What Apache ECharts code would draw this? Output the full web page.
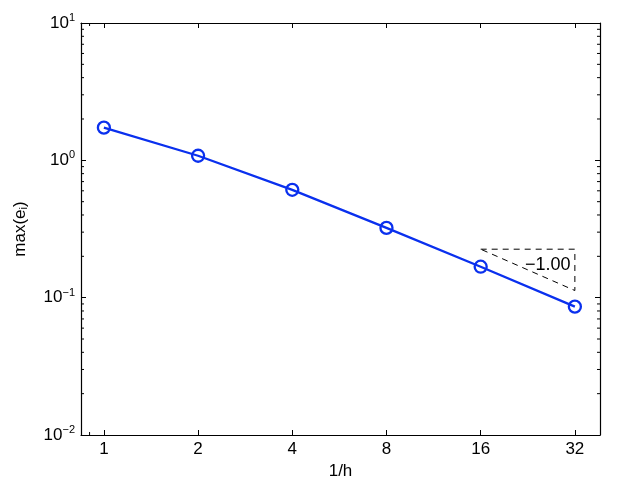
<!DOCTYPE html>
<html><head><meta charset="utf-8">
<script src="https://cdn.jsdelivr.net/npm/echarts@6/dist/echarts.min.js"></script>
<style>html,body{margin:0;padding:0;background:#fff}#c{width:624px;height:490px}</style>
</head><body><div id="c"></div>
<script>
const xValues = [1, 2, 4, 8, 16, 32];
const yValues = [1.73, 1.08, 0.61, 0.322, 0.168, 0.086];
const triangleX = [16, 32, 32, 16];
const triangleY = [0.2254, 0.2254, 0.1127, 0.2254];
const slopeLabel = '\u22121.00';
const slopeLabelPos = [26.2, 0.172];
const yMinorTicks = [];
[0.01, 0.1, 1].forEach(d => { for (let k = 2; k <= 9; k++) yMinorTicks.push(d * k); });
const xMinorTicks = [0.9];

const FONT = 'Liberation Sans, Arial, Helvetica, sans-serif';
const BLUE = '#0a30ee';
const chart = echarts.init(document.getElementById('c'));
const xMin = 0.845, xMax = 38.5;

function yLabel(v) {
  const e = Math.round(Math.log10(v));
  return '10{sup|' + (e < 0 ? '\u2212' + (-e) : e) + '}';
}
function xLabel(v) {
  const l = Math.log2(v);
  if (Math.abs(l - Math.round(l)) < 1e-6) return String(Math.round(Math.pow(2, Math.round(l))));
  return '';
}
const axisCommonX = {
  type: 'log', logBase: 2, min: xMin, max: xMax,
  axisLine: { lineStyle: { color: '#000', width: 1.2 } },
  axisTick: { inside: true, length: 5, lineStyle: { color: '#000' } },
  splitLine: { show: false }
};
const axisCommonY = {
  type: 'log', logBase: 10, min: 0.01, max: 10,
  axisLine: { lineStyle: { color: '#000', width: 1.2 } },
  axisTick: { inside: true, length: 5, lineStyle: { color: '#000' } },
  splitLine: { show: false }
};

chart.setOption({
  animation: false,
  grid: { left: 81, right: 24, top: 23, bottom: 55 },
  xAxis: [
    Object.assign({}, axisCommonX, {
      position: 'bottom',
      name: '1/h', nameLocation: 'middle', nameGap: 24,
      nameTextStyle: { fontFamily: FONT, fontSize: 17, color: '#000' },
      axisLabel: { formatter: xLabel, fontFamily: FONT, fontSize: 17, color: '#000', margin: 6,
        showMinLabel: false, showMaxLabel: false }
    }),
    Object.assign({}, axisCommonX, { position: 'top', axisLabel: { show: false } })
  ],
  yAxis: [
    Object.assign({}, axisCommonY, {
      position: 'left',
      name: 'max(e{sub|i})', nameLocation: 'middle', nameGap: 52,
      nameTextStyle: { fontFamily: FONT, fontSize: 17, color: '#000',
        rich: { sub: { fontFamily: FONT, fontSize: 11, color: '#000', verticalAlign: 'bottom', padding: [6, 0, 0, 0] } } },
      axisLabel: { formatter: yLabel, fontFamily: FONT, fontSize: 17, color: '#000', margin: 6,
        rich: { sup: { fontFamily: FONT, fontSize: 11, color: '#000', verticalAlign: 'top', padding: [0, 0, 10, 0] } } }
    }),
    Object.assign({}, axisCommonY, { position: 'right', axisLabel: { show: false } })
  ],
  series: [
    {
      type: 'line', xAxisIndex: 0, yAxisIndex: 0,
      data: xValues.map((x, i) => [x, yValues[i]]),
      symbol: 'circle', symbolSize: 12, showAllSymbol: true,
      lineStyle: { color: BLUE, width: 2.3 },
      itemStyle: { color: 'rgba(255,255,255,0)', borderColor: BLUE, borderWidth: 2.3 },
      z: 5
    },
    {
      type: 'line', xAxisIndex: 0, yAxisIndex: 0,
      data: triangleX.map((x, i) => [x, triangleY[i]]),
      symbol: 'none',
      lineStyle: { color: '#000', width: 1, type: [6, 5] },
      z: 3
    },
    {
      type: 'custom', xAxisIndex: 0, yAxisIndex: 0,
      data: [slopeLabelPos], silent: true, clip: false,
      renderItem: function (params, api) {
        const p = api.coord([api.value(0), api.value(1)]);
        return { type: 'text', x: p[0], y: p[1],
          style: { text: slopeLabel, fill: '#000', font: '18px ' + FONT, align: 'center', verticalAlign: 'middle' } };
      },
      z: 4
    },
    {
      type: 'custom', xAxisIndex: 0, yAxisIndex: 0,
      data: yMinorTicks.map(v => [1, v]),
      clip: false, silent: true,
      renderItem: function (params, api) {
        const p = api.coord([1, api.value(1)]);
        const cs = params.coordSys;
        return { type: 'group', children: [
          { type: 'line', shape: { x1: cs.x, y1: p[1], x2: cs.x + 3, y2: p[1] }, style: { stroke: '#000', lineWidth: 1 } },
          { type: 'line', shape: { x1: cs.x + cs.width, y1: p[1], x2: cs.x + cs.width - 3, y2: p[1] }, style: { stroke: '#000', lineWidth: 1 } }
        ] };
      }
    },
    {
      type: 'custom', xAxisIndex: 0, yAxisIndex: 0,
      data: xMinorTicks.map(v => [v, 1]),
      clip: false, silent: true,
      renderItem: function (params, api) {
        const p = api.coord([api.value(0), 1]);
        const cs = params.coordSys;
        return { type: 'group', children: [
          { type: 'line', shape: { x1: p[0], y1: cs.y + cs.height, x2: p[0], y2: cs.y + cs.height - 3 }, style: { stroke: '#000', lineWidth: 1 } },
          { type: 'line', shape: { x1: p[0], y1: cs.y, x2: p[0], y2: cs.y + 3 }, style: { stroke: '#000', lineWidth: 1 } }
        ] };
      }
    }
  ]
});
</script></body></html>
